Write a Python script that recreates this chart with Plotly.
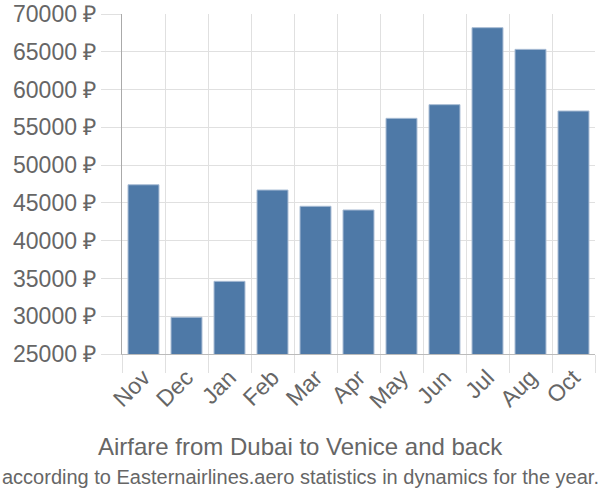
import plotly.graph_objects as go

months = ["Nov", "Dec", "Jan", "Feb", "Mar", "Apr", "May", "Jun", "Jul", "Aug", "Oct"]
prices = [47400, 29860, 34620, 46700, 44550, 44060, 56190, 58000, 68190, 65320, 57160]
y_ticks = [25000, 30000, 35000, 40000, 45000, 50000, 55000, 60000, 65000, 70000]
y_labels = [f"{v} ₽" for v in y_ticks]

title = "Airfare from Dubai to Venice and back"
subtitle = "according to Easternairlines.aero statistics in dynamics for the year."

W, H = 600, 500
ML, MR, MT, MB = 122, 5, 14, 146

fig = go.Figure(go.Bar(
    x=months, y=prices,
    marker=dict(color="#4e79a7", line=dict(color="#a8bcd4", width=1)),
))

font_family = "Liberation Sans, Arial, sans-serif"
fig.update_layout(
    width=W, height=H,
    margin=dict(l=ML, r=MR, t=MT, b=MB, autoexpand=False),
    paper_bgcolor="white", plot_bgcolor="white",
    bargap=0.28,
    showlegend=False,
    font=dict(family=font_family, color="#666666", size=20),
    xaxis=dict(
        type="category", tickson="boundaries", showgrid=True,
        gridcolor="#e0e0e0", gridwidth=1,
        ticks="outside", ticklen=18, tickcolor="#e0e0e0",
        tickangle=-45, tickfont=dict(size=23, color="#666666"),
        showline=True, linecolor="#bbbbbb", linewidth=1,
        automargin=False,
    ),
    yaxis=dict(
        range=[25000, 70000], tickvals=y_ticks, ticktext=y_labels,
        showgrid=True, gridcolor="#e0e0e0", gridwidth=1,
        ticks="outside", ticklen=20, tickcolor="#e0e0e0",
        tickfont=dict(size=23, color="#666666"),
        showline=True, linecolor="#aaaaaa", linewidth=1,
        zeroline=False, automargin=False,
    ),
)

plot_h = H - MT - MB
plot_w = W - ML - MR
for text, ypx, size in [(title, 446, 24), (subtitle, 477, 20)]:
    fig.add_annotation(
        text=text, xref="paper", yref="paper",
        x=(W / 2 - ML) / plot_w, y=(H - MB - ypx) / plot_h,
        xanchor="center", yanchor="middle", showarrow=False,
        font=dict(size=size, color="#666666"),
    )

fig.write_html(
    "out.html",
    config={"displayModeBar": False},
    post_script="document.body.style.margin='0';document.body.style.padding='0';",
)
